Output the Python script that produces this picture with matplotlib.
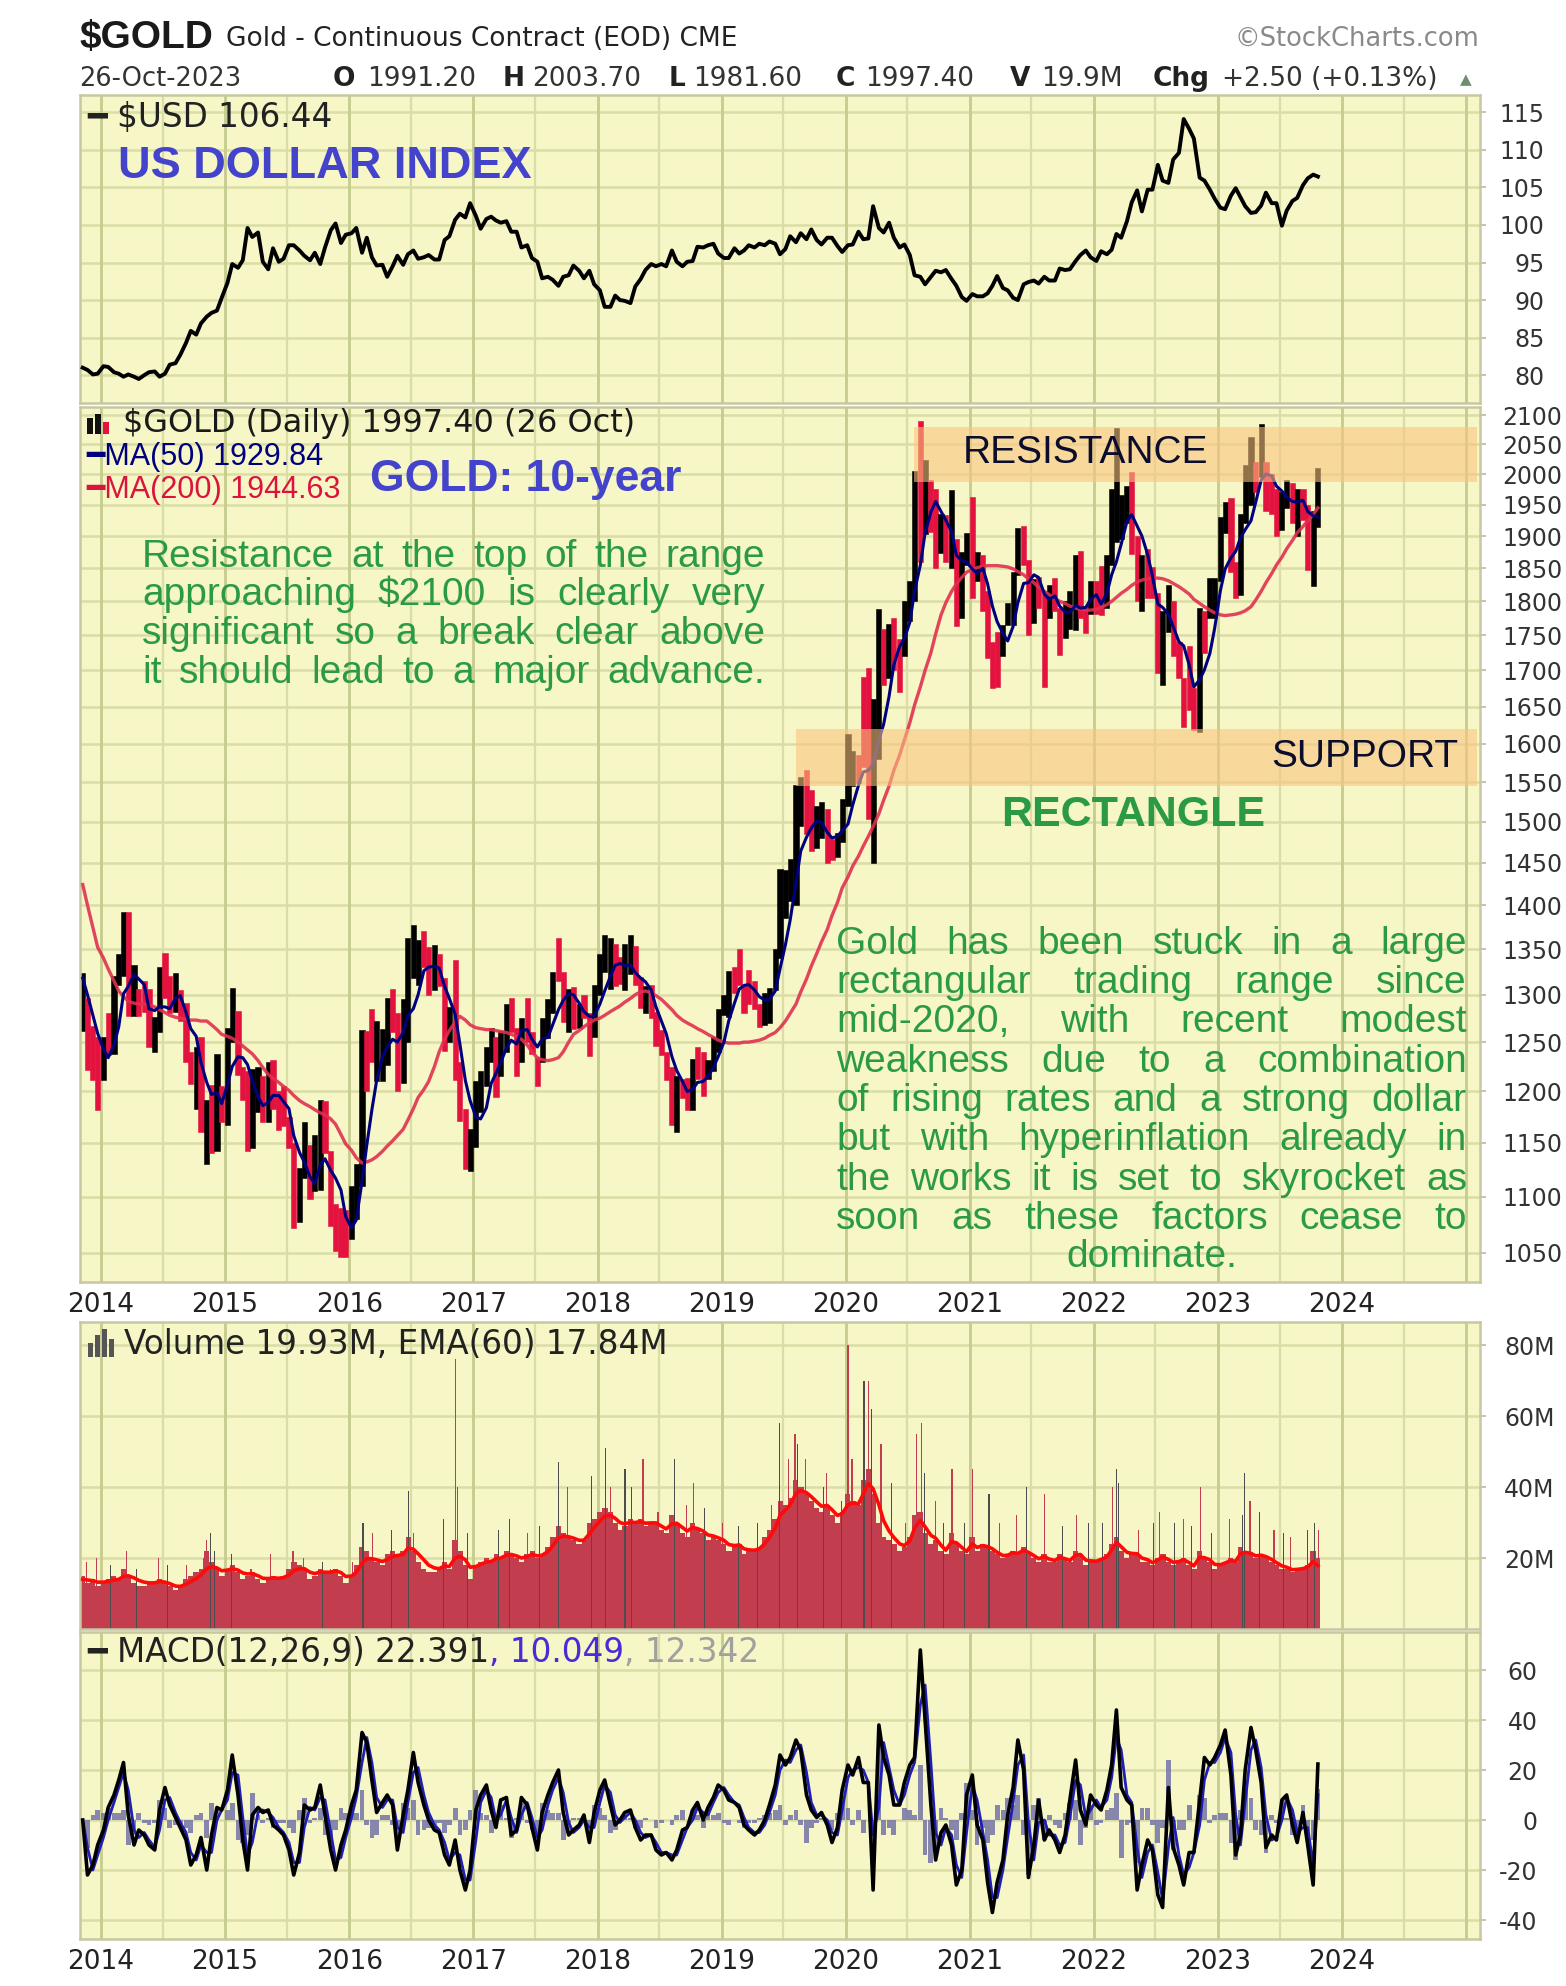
import matplotlib
matplotlib.use("Agg")
import matplotlib.pyplot as plt
import matplotlib.dates as mdates
from matplotlib import font_manager
from matplotlib.patches import Rectangle
from matplotlib.ticker import NullLocator, NullFormatter
import numpy as np
import pandas as pd

# ---------------------------------------------------------------------------
# Data: half-monthly periods from Nov 2013 to late Oct 2023
# ---------------------------------------------------------------------------
usd = [
    81.0, 80.7, 80.1, 80.2,
    81.2, 81.1, 80.4, 80.2, 79.8, 80.1, 79.8, 79.5, 80.0, 80.4, 80.5, 79.8, 80.2, 81.4, 81.6, 82.7, 84.3, 85.9, 85.4, 86.9, 87.8, 88.3, 88.6, 90.3,
    92.3, 94.8, 94.3, 95.3, 99.6, 98.4, 99.0, 95.1, 94.1, 96.9, 95.1, 95.5, 97.3, 97.3, 96.6, 95.9, 95.3, 96.3, 94.8, 97.0, 99.3, 100.2, 97.6, 98.7,
    98.9, 99.6, 96.3, 98.3, 95.7, 94.6, 94.7, 93.1, 94.5, 95.9, 94.7, 96.1, 96.6, 95.5, 95.7, 96.0, 95.4, 95.4, 98.0, 98.5, 100.7, 101.5, 101.0, 102.9,
    101.2, 99.5, 100.8, 101.1, 100.6, 100.3, 100.5, 99.1, 99.1, 97.0, 97.3, 95.6, 95.1, 92.9, 93.1, 92.7, 91.9, 93.1, 93.3, 94.6, 93.9, 92.9, 93.9, 92.1,
    91.3, 89.1, 89.1, 90.6, 90.0, 89.9, 89.6, 91.8, 92.8, 94.0, 94.8, 94.5, 94.8, 94.5, 96.6, 95.1, 94.5, 95.1, 95.2, 97.1, 97.0, 97.3, 97.5, 96.2,
    95.6, 95.6, 96.9, 96.2, 96.6, 97.3, 97.0, 97.5, 97.3, 97.8, 97.5, 96.1, 96.8, 98.5, 97.7, 98.9, 98.1, 99.4, 98.0, 97.4, 98.3, 98.3, 97.2, 96.4,
    97.3, 97.4, 99.1, 98.1, 98.2, 102.5, 99.6, 99.0, 100.3, 98.3, 97.0, 97.4, 96.0, 93.3, 93.1, 92.1, 93.1, 93.9, 93.7, 94.0, 92.8, 91.9, 90.4, 89.9,
    90.8, 90.5, 90.5, 90.9, 91.9, 93.2, 91.6, 91.3, 90.3, 90.0, 92.1, 92.4, 92.6, 92.2, 93.1, 92.6, 92.6, 94.2, 94.0, 94.1, 95.2, 96.0, 96.6, 95.7,
    95.2, 96.5, 96.1, 96.7, 98.8, 98.3, 100.5, 103.0, 104.6, 101.8, 104.7, 104.7, 108.0, 105.9, 105.6, 108.7, 109.6, 114.1, 112.8, 111.5, 106.3, 105.9, 104.7, 103.5,
    102.3, 102.1, 103.9, 104.9, 103.7, 102.5, 101.6, 101.7, 102.6, 104.3, 102.9, 102.9, 99.9, 101.9, 103.2, 103.6, 105.3, 106.2, 106.7, 106.44,
]

gold_low = [
    1262, 1221, 1211, 1182,
    1211, 1237, 1238, 1310, 1320, 1277, 1277, 1277, 1282, 1245, 1240, 1260, 1296, 1280, 1282, 1272, 1230, 1207, 1183, 1160, 1130, 1140, 1142, 1170,
    1167, 1250, 1216, 1192, 1142, 1145, 1180, 1170, 1170, 1183, 1162, 1166, 1145, 1072, 1077, 1117, 1098, 1105, 1106, 1140, 1074, 1052, 1046, 1046,
    1062, 1080, 1110, 1200, 1230, 1210, 1210, 1227, 1260, 1200, 1208, 1250, 1318, 1310, 1330, 1300, 1305, 1309, 1241, 1250, 1211, 1171, 1125, 1124,
    1146, 1180, 1205, 1230, 1195, 1215, 1240, 1260, 1215, 1230, 1250, 1238, 1205, 1230, 1254, 1280, 1315, 1271, 1260, 1264, 1265, 1275, 1236, 1255,
    1300, 1325, 1306, 1309, 1312, 1305, 1322, 1310, 1286, 1281, 1275, 1246, 1237, 1211, 1167, 1160, 1194, 1182, 1182, 1212, 1196, 1212, 1220, 1240,
    1278, 1276, 1302, 1311, 1280, 1290, 1285, 1266, 1268, 1270, 1305, 1340, 1385, 1405, 1400, 1495, 1485, 1464, 1468, 1480, 1450, 1453, 1457, 1475,
    1520, 1545, 1549, 1570, 1504, 1450, 1580, 1680, 1690, 1700, 1670, 1720, 1771, 1800, 1860, 1903, 1906, 1850, 1874, 1860, 1850, 1764, 1776, 1855,
    1805, 1830, 1785, 1717, 1676, 1677, 1720, 1765, 1765, 1840, 1855, 1750, 1768, 1790, 1677, 1775, 1785, 1722, 1746, 1760, 1758, 1775, 1753, 1782,
    1782, 1780, 1790, 1855, 1890, 1895, 1920, 1872, 1800, 1786, 1805, 1805, 1696, 1680, 1755, 1720, 1690, 1622, 1645, 1618, 1616, 1725, 1775, 1775,
    1830, 1905, 1845, 1805, 1810, 1920, 1950, 1970, 1995, 1940, 1935, 1900, 1910, 1945, 1920, 1900, 1925, 1848, 1823, 1915,
]

gold_high = [
    1324, 1296, 1267, 1255,
    1255, 1280, 1320, 1345, 1392, 1392, 1332, 1306, 1315, 1306, 1276, 1330, 1346, 1320, 1324, 1305, 1291, 1240, 1245, 1255, 1192, 1206, 1238, 1205,
    1265, 1307, 1283, 1225, 1220, 1223, 1225, 1215, 1230, 1232, 1200, 1205, 1175, 1150, 1126, 1170, 1148, 1158, 1192, 1191, 1142, 1093, 1090, 1088,
    1110, 1130, 1263, 1262, 1285, 1272, 1264, 1297, 1306, 1280, 1295, 1362, 1377, 1360, 1370, 1352, 1355, 1345, 1318, 1287, 1338, 1230, 1183, 1163,
    1210, 1220, 1245, 1265, 1255, 1262, 1290, 1296, 1265, 1275, 1297, 1260, 1235, 1275, 1295, 1325, 1362, 1325, 1306, 1308, 1290, 1300, 1280, 1310,
    1345, 1366, 1362, 1356, 1341, 1356, 1366, 1354, 1319, 1309, 1310, 1282, 1263, 1240, 1225, 1215, 1212, 1213, 1233, 1245, 1240, 1232, 1255, 1285,
    1300, 1326, 1330, 1350, 1311, 1327, 1315, 1290, 1302, 1307, 1350, 1442, 1441, 1455, 1546, 1556, 1566, 1540, 1520, 1525, 1516, 1479, 1486, 1529,
    1613, 1590, 1585, 1691, 1704, 1660, 1788, 1760, 1766, 1775, 1745, 1800, 1830, 2005, 2089, 2024, 1990, 1975, 1935, 1933, 1973, 1895, 1875, 1905,
    1962, 1875, 1870, 1815, 1740, 1755, 1765, 1798, 1845, 1913, 1916, 1862, 1833, 1836, 1815, 1825, 1835, 1790, 1800, 1815, 1870, 1877, 1793, 1831,
    1830, 1853, 1870, 1976, 2078, 1966, 1980, 2003, 1900, 1870, 1880, 1852, 1813, 1785, 1825, 1800, 1740, 1690, 1735, 1675, 1790, 1785, 1835, 1835,
    1930, 1955, 1960, 1860, 1935, 2015, 2063, 2020, 2085, 2020, 2000, 1975, 1970, 1990, 1985, 1975, 1975, 1950, 1940, 2010,
]

gold_close = [
    1287, 1250, 1235, 1202,
    1242, 1240, 1318, 1326, 1379, 1284, 1302, 1296, 1293, 1250, 1274, 1322, 1297, 1282, 1306, 1287, 1234, 1210, 1241, 1171, 1188, 1175, 1222, 1184,
    1264, 1279, 1228, 1213, 1153, 1183, 1200, 1183, 1225, 1190, 1180, 1172, 1147, 1095, 1113, 1133, 1103, 1115, 1182, 1142, 1080, 1065, 1063, 1060,
    1090, 1116, 1239, 1234, 1232, 1234, 1234, 1293, 1273, 1215, 1287, 1322, 1327, 1351, 1343, 1309, 1327, 1316, 1252, 1277, 1222, 1173, 1130, 1152,
    1197, 1211, 1229, 1253, 1201, 1249, 1289, 1268, 1233, 1269, 1255, 1242, 1228, 1269, 1280, 1322, 1320, 1280, 1305, 1271, 1278, 1275, 1257, 1303,
    1339, 1345, 1355, 1318, 1315, 1325, 1345, 1315, 1289, 1298, 1278, 1253, 1241, 1223, 1180, 1206, 1201, 1192, 1230, 1215, 1212, 1224, 1241, 1281,
    1292, 1321, 1318, 1316, 1302, 1298, 1291, 1283, 1297, 1306, 1342, 1413, 1415, 1437, 1524, 1529, 1499, 1472, 1482, 1514, 1468, 1465, 1480, 1520,
    1554, 1588, 1586, 1566, 1530, 1596, 1745, 1694, 1756, 1751, 1726, 1800, 1812, 1986, 1950, 1978, 1966, 1895, 1908, 1879, 1887, 1780, 1855, 1895,
    1829, 1850, 1823, 1734, 1728, 1715, 1764, 1768, 1838, 1905, 1858, 1771, 1828, 1817, 1780, 1818, 1795, 1757, 1768, 1784, 1866, 1775, 1762, 1829,
    1817, 1796, 1856, 1900, 1929, 1954, 1974, 1911, 1811, 1848, 1813, 1807, 1703, 1782, 1798, 1726, 1697, 1672, 1648, 1640, 1777, 1768, 1787, 1826,
    1921, 1945, 1850, 1836, 1932, 1986, 2015, 1999, 2018, 1982, 1970, 1929, 1960, 1970, 1945, 1966, 1946, 1870, 1933, 1997.40,
]

ma50 = [
    1318, 1300, 1278, 1259,
    1243, 1234, 1247, 1266, 1301, 1309, 1322, 1317, 1311, 1285, 1283, 1287, 1287, 1285, 1296, 1299, 1281, 1264, 1256, 1229, 1209, 1197, 1199, 1188,
    1207, 1225, 1235, 1234, 1227, 1211, 1195, 1186, 1189, 1196, 1196, 1190, 1183, 1157, 1141, 1132, 1118, 1112, 1129, 1135, 1124, 1117, 1106, 1082,
    1072, 1079, 1114, 1148, 1182, 1211, 1235, 1245, 1253, 1250, 1260, 1278, 1285, 1300, 1326, 1330, 1331, 1329, 1309, 1296, 1279, 1248, 1211, 1191,
    1175, 1173, 1184, 1208, 1218, 1229, 1244, 1252, 1248, 1262, 1263, 1253, 1245, 1253, 1255, 1268, 1284, 1294, 1301, 1300, 1291, 1282, 1277, 1277,
    1290, 1304, 1320, 1332, 1334, 1332, 1332, 1324, 1318, 1314, 1305, 1287, 1272, 1259, 1235, 1221, 1210, 1200, 1202, 1209, 1210, 1215, 1224, 1235,
    1250, 1272, 1291, 1306, 1310, 1311, 1305, 1298, 1294, 1295, 1304, 1328, 1355, 1383, 1426, 1464, 1481, 1492, 1501, 1499, 1487, 1480, 1482, 1489,
    1497, 1521, 1546, 1563, 1565, 1573, 1605, 1626, 1664, 1708, 1734, 1745, 1769, 1815, 1855, 1905, 1938, 1955, 1939, 1925, 1907, 1870, 1862, 1859,
    1849, 1842, 1850, 1826, 1793, 1770, 1753, 1742, 1763, 1798, 1827, 1828, 1840, 1836, 1811, 1803, 1808, 1793, 1784, 1784, 1794, 1790, 1791, 1803,
    1810, 1796, 1812, 1840, 1860, 1887, 1923, 1934, 1916, 1900, 1871, 1838, 1796, 1791, 1781, 1763, 1741, 1735, 1708, 1677, 1687, 1701, 1724, 1760,
    1816, 1849, 1866, 1876, 1897, 1910, 1924, 1954, 1990, 2000, 1997, 1980, 1972, 1962, 1955, 1954, 1957, 1939, 1932, 1929.84,
]

ma200 = [
    1424, 1400, 1374, 1352,
    1340, 1328, 1315, 1304, 1298, 1293, 1291, 1290, 1290, 1289, 1287, 1284, 1281, 1278, 1276, 1275, 1274, 1273, 1273, 1272, 1272, 1268, 1263, 1258,
    1256, 1254, 1250, 1246, 1242, 1238, 1231, 1224, 1217, 1213, 1209, 1205, 1201, 1196, 1191, 1188, 1185, 1182, 1179, 1177, 1173, 1168, 1158, 1149,
    1143, 1136, 1131, 1132, 1134, 1137, 1142, 1147, 1152, 1157, 1163, 1172, 1183, 1194, 1202, 1210, 1225, 1240, 1253, 1262, 1271, 1277, 1273, 1268,
    1265, 1264, 1263, 1263, 1262, 1261, 1260, 1258, 1256, 1253, 1247, 1240, 1234, 1232, 1231, 1232, 1234, 1240, 1250, 1258, 1262, 1266, 1270, 1273,
    1275, 1278, 1282, 1285, 1288, 1292, 1296, 1300, 1303, 1304, 1302, 1299, 1295, 1290, 1284, 1278, 1273, 1270, 1267, 1264, 1261, 1258, 1255, 1252,
    1250, 1249, 1249, 1249, 1250, 1250, 1251, 1252, 1254, 1257, 1260, 1265, 1272, 1280, 1290, 1303, 1317, 1331, 1345, 1358, 1372, 1388, 1403, 1420,
    1433, 1446, 1458, 1470, 1482, 1494, 1510, 1527, 1545, 1565, 1585, 1605, 1628, 1652, 1677, 1700, 1725, 1752, 1780, 1798, 1815, 1826, 1836, 1844,
    1848, 1851, 1853, 1854, 1854, 1854, 1853, 1852, 1849, 1845, 1840, 1834, 1828, 1821, 1815, 1810, 1805, 1800, 1797, 1793, 1790, 1788, 1787, 1787,
    1788, 1791, 1795, 1800, 1806, 1812, 1818, 1824, 1829, 1832, 1834, 1835, 1835, 1834, 1831, 1827, 1822, 1817, 1811, 1803, 1797, 1792, 1787, 1783,
    1780, 1779, 1780, 1781, 1783, 1786, 1792, 1802, 1815, 1828, 1842, 1855, 1867, 1880, 1893, 1905, 1915, 1924, 1934, 1944.63,
]

volume = [  # millions of contracts
    15, 13, 14, 12,
    13, 14, 15, 14, 17, 15, 13, 12, 12, 13, 13, 14, 13, 12, 11, 12, 14, 15, 16, 17, 22, 19, 17, 15,
    17, 18, 16, 14, 15, 16, 14, 13, 14, 15, 14, 15, 17, 19, 18, 17, 14, 15, 17, 16, 16, 17, 15, 13,
    15, 18, 23, 22, 20, 19, 18, 21, 22, 21, 22, 26, 22, 19, 17, 16, 16, 17, 19, 17, 25, 22, 18, 14,
    18, 19, 20, 19, 21, 20, 22, 21, 20, 19, 21, 22, 20, 21, 23, 26, 29, 27, 26, 25, 24, 25, 30, 31,
    33, 34, 33, 30, 28, 29, 31, 30, 31, 29, 30, 30, 28, 27, 32, 30, 27, 26, 30, 28, 27, 25, 26, 25,
    24, 22, 23, 24, 21, 22, 22, 23, 26, 28, 31, 36, 35, 37, 42, 40, 38, 36, 34, 33, 35, 32, 30, 33,
    38, 36, 35, 42, 45, 38, 30, 26, 25, 24, 22, 23, 26, 32, 33, 27, 24, 25, 22, 21, 27, 24, 22, 21,
    26, 22, 24, 23, 22, 21, 20, 21, 22, 21, 23, 21, 20, 19, 21, 19, 19, 21, 20, 19, 22, 21, 18, 19,
    19, 20, 21, 24, 26, 22, 20, 21, 21, 19, 19, 18, 20, 21, 19, 18, 19, 20, 18, 17, 22, 20, 19, 17,
    18, 19, 20, 19, 23, 22, 21, 20, 21, 20, 19, 18, 17, 17, 16, 17, 17, 18, 22, 19.93,
]

volume_ema = [
    14.0, 13.8, 13.6, 13.2,
    13.2, 13.4, 13.8, 14.0, 14.8, 15.0, 14.4, 13.7, 13.2, 13.0, 13.0, 13.4, 13.2, 12.8, 12.1, 12.0, 12.6, 13.4, 14.2, 15.2, 17.0, 17.6, 17.2, 16.4,
    16.6, 17.0, 16.6, 15.8, 15.5, 15.6, 15.0, 14.3, 14.2, 14.4, 14.3, 14.5, 15.2, 16.4, 17.0, 17.0, 16.0, 15.6, 16.1, 16.0, 16.0, 16.4, 15.9, 14.8,
    14.9, 16.0, 18.5, 19.8, 19.8, 19.5, 19.0, 19.6, 20.4, 20.7, 21.0, 22.8, 22.5, 21.2, 19.5, 18.0, 17.2, 17.0, 17.8, 17.6, 20.0, 20.5, 19.5, 17.4,
    17.6, 18.2, 18.9, 19.0, 19.8, 20.0, 20.8, 21.0, 20.6, 20.0, 20.4, 21.0, 20.6, 20.8, 21.8, 23.4, 25.6, 26.2, 26.0, 25.6, 25.0, 25.0, 26.8, 28.6,
    30.4, 31.8, 32.0, 31.2, 30.0, 29.6, 30.1, 30.0, 30.3, 29.8, 29.9, 29.9, 29.0, 28.2, 29.6, 29.8, 28.6, 27.6, 28.6, 28.3, 27.6, 26.5, 26.2, 25.7,
    25.0, 23.8, 23.5, 23.7, 22.6, 22.3, 22.2, 22.6, 24.0, 25.8, 28.4, 32.0, 33.5, 35.0, 38.2, 39.0, 38.4, 37.3, 35.8, 34.6, 34.8, 33.6, 32.0, 32.5,
    35.0, 35.5, 35.3, 38.0, 41.0, 39.5, 35.0, 30.5, 27.6, 25.8, 24.0, 23.5, 24.8, 28.4, 30.6, 28.8, 26.4, 25.6, 23.6, 22.2, 24.6, 24.3, 23.0, 21.8,
    24.0, 23.0, 23.5, 23.2, 22.6, 21.6, 20.7, 20.8, 21.5, 21.3, 22.2, 21.6, 20.7, 19.8, 20.4, 19.7, 19.3, 20.2, 19.8, 19.3, 20.8, 21.0, 19.4, 19.2,
    19.1, 19.6, 20.3, 22.3, 24.4, 23.2, 21.6, 21.3, 21.2, 20.0, 19.5, 18.7, 19.4, 20.3, 19.6, 18.8, 19.0, 19.5, 18.7, 17.8, 20.2, 20.1, 19.5, 18.2,
    18.1, 18.6, 19.3, 19.1, 21.2, 21.6, 21.3, 20.6, 20.8, 20.4, 19.6, 18.7, 17.8, 17.4, 16.7, 16.8, 17.0, 17.5, 19.0, 17.84,
]

# single heavy sessions (up days / down days)
spike_up_dates = [
    "2014-01-28", "2014-04-15", "2014-07-15", "2014-11-20", "2014-12-02", "2015-01-20", "2015-10-15",
    "2016-02-11", "2016-05-05", "2016-06-24", "2016-10-04", "2016-12-15", "2017-03-15", "2017-04-18",
    "2017-07-15", "2017-09-08", "2017-12-14", "2018-01-25", "2018-03-23", "2018-04-11", "2018-08-15",
    "2018-11-13", "2019-02-20", "2019-04-16", "2019-06-20", "2019-08-13", "2019-10-28", "2019-12-20",
    "2020-02-24", "2020-03-18", "2020-05-15", "2020-08-20", "2020-10-15", "2020-12-16", "2021-02-26",
    "2021-06-17", "2021-09-30", "2021-12-15", "2022-01-26", "2022-03-08", "2022-03-14", "2022-06-24",
    "2022-08-26", "2022-10-14", "2022-12-13", "2023-03-13", "2023-03-20", "2023-05-04", "2023-07-13",
    "2023-09-22", "2023-10-13",
]
spike_up = [
    18, 17, 18, 27, 22, 21, 19,
    30, 28, 39, 31, 27, 28, 31,
    29, 47, 43, 51, 45, 40, 48,
    34, 29, 30, 58, 52, 40, 36,
    70, 62, 41, 44, 30, 30, 38,
    40, 29, 30, 30, 45, 41, 30,
    30, 29, 27, 32, 44, 33, 27,
    28, 30,
]
spike_down_dates = [
    "2013-11-20", "2013-12-18", "2014-03-18", "2014-06-19", "2014-09-10", "2014-10-30", "2014-11-07",
    "2015-03-18", "2015-05-15", "2015-07-20", "2015-08-20", "2015-11-06", "2016-01-12", "2016-03-10",
    "2016-07-08", "2016-11-09", "2016-11-14", "2017-06-08", "2017-10-05", "2018-02-08", "2018-05-15",
    "2018-06-28", "2018-09-20", "2018-10-11", "2019-01-04", "2019-05-28", "2019-07-18", "2019-08-05",
    "2019-09-04", "2019-11-07", "2020-01-20", "2020-01-08", "2020-03-09", "2020-04-14", "2020-06-25",
    "2020-07-28", "2020-08-11", "2020-09-22", "2020-11-09", "2021-01-08", "2021-03-30", "2021-05-18",
    "2021-08-09", "2021-11-11", "2022-02-24", "2022-05-13", "2022-07-14", "2022-09-22", "2022-11-10",
    "2023-02-03", "2023-04-05", "2023-06-15", "2023-08-02", "2023-10-24",
]
spike_down = [
    19, 20, 22, 20, 18, 20, 25,
    17, 21, 22, 20, 17, 19, 27,
    27, 76, 40, 27, 40, 40, 48,
    33, 35, 41, 30, 35, 48, 55,
    48, 44, 48, 80, 70, 52, 30,
    55, 58, 36, 45, 45, 30, 32,
    38, 32, 40, 28, 33, 31, 40,
    31, 36, 28, 26, 28,
]

macd = [
    0, -22, -18, -10,
    -4, 5, 10, 16, 23, 2, -10, -4, -6, -10, -12, 4, 13, 6, 1, -3, -8, -18, -14, -7, -20, -6, 5, 4,
    12, 26, 10, -8, -20, 2, 5, 3, 4, -2, -4, -6, -12, -22, -13, 6, 4, 5, 14, 2, -12, -20, -10, -4,
    6, 12, 35, 31, 16, 3, 7, 10, 6, -12, 2, 12, 27, 15, 6, 0, -4, -5, -14, -18, -8, -20, -28, -20,
    4, 10, 14, 4, -3, 8, 9, -6, -4, 9, 6, -3, -12, 3, 10, 15, 20, 3, -6, -4, -2, 2, -9, 3,
    12, 16, 6, -2, 0, 3, 4, -3, -8, -6, -6, -12, -14, -13, -16, -12, -4, -3, 4, 7, 0, 5, 9, 14,
    12, 8, 7, 5, -2, -4, -6, -4, 0, 6, 14, 26, 22, 25, 32, 28, 10, 4, 1, 3, -2, -9, -3, 12,
    22, 18, 25, 15, 15, -28, 38, 25, 18, 6, 6, 15, 22, 25, 68, 40, 6, -16, -5, -2, -10, -26, -20, 10,
    18, -2, -8, -25, -37, -25, -16, 2, 13, 32, 20, -23, -10, 8, -8, -4, -8, -13, -6, 8, 24, 4, -2, 10,
    6, 4, 12, 22, 44, 13, 8, 6, -28, -18, -8, -12, -30, -35, 13, -11, -18, -26, -13, -13, 8, 25, 22, 25,
    30, 36, 18, -14, -6, 20, 37, 28, 15, -11, -6, -8, 8, 10, -2, -9, 3, -10, -26, 22.391,
]

macd_signal = [
    0, -11, -20, -14,
    -7, 0, 7, 13, 19, 12, -4, -7, -5, -8, -11, -4, 8, 9, 3, -1, -5, -13, -16, -10, -13, -13, 0, 4,
    8, 19, 18, 1, -14, -9, 3, 4, 3, 1, -3, -5, -9, -17, -17, -3, 5, 4, 9, 8, -5, -16, -15, -7,
    1, 9, 23, 33, 23, 9, 5, 8, 8, -3, -5, 7, 19, 21, 10, 3, -2, -4, -9, -16, -13, -14, -24, -24,
    -8, 7, 12, 9, 0, 2, 8, 1, -5, 2, 7, 1, -7, -4, 6, 12, 17, 11, -1, -5, -3, 0, -3, -3,
    7, 14, 11, 2, -1, 1, 3, 0, -5, -7, -6, -9, -13, -13, -14, -14, -8, -3, 0, 5, 3, 2, 7, 11,
    13, 10, 7, 6, 1, -3, -5, -5, -2, 3, 10, 20, 24, 23, 28, 30, 19, 7, 2, 2, 0, -5, -6, 4,
    17, 20, 21, 20, 15, -6, 5, 31, 21, 12, 6, 10, 18, 23, 46, 54, 23, -5, -10, -3, -6, -18, -23, -5,
    14, 8, -5, -16, -31, -31, -20, -7, 7, 22, 26, -1, -16, -1, 0, -6, -6, -10, -9, 1, 16, 14, 1, 4,
    8, 5, 8, 17, 33, 28, 10, 7, -11, -23, -13, -10, -21, -32, -11, 1, -14, -22, -19, -13, -2, 16, 23, 23,
    27, 33, 27, 2, -10, 7, 28, 32, 21, 2, -8, -7, 0, 9, 4, -5, -3, -3, -18, 10.049,
]

year_labels = [str(y) for y in range(2014, 2025)]
usd_ticks = [80, 85, 90, 95, 100, 105, 110, 115]
gold_ticks = list(range(1050, 2101, 50))
volume_ticks = [20, 40, 60, 80]
macd_ticks = [-40, -20, 0, 20, 40, 60]

resistance_zone = (1986, 2080)
support_zone = (1545, 1620)
resistance_from = "2020-07-20"
support_from = "2019-08-08"

header_keys = ["O", "H", "L", "C", "V"]
header_vals = ["1991.20", "2003.70", "1981.60", "1997.40", "19.9M"]
header_change = "+2.50 (+0.13%)"

n = len(gold_close)
for series in (usd, gold_low, gold_high, ma50, ma200, volume, volume_ema, macd, macd_signal):
    assert len(series) == n, len(series)
assert len(spike_up) == len(spike_up_dates) and len(spike_down) == len(spike_down_dates)

# ---------------------------------------------------------------------------
# Figure and helpers
# ---------------------------------------------------------------------------
W, H = 1566, 1986
plt.rcParams["font.family"] = "DejaVu Sans"
fig = plt.figure(figsize=(W / 100, H / 100), dpi=100)
fig.patch.set_facecolor("white")

_installed = {f.name for f in font_manager.fontManager.ttflist}


def family(*names):
    for name in names:
        if name in _installed:
            return name
    return "DejaVu Sans"


SANS = "DejaVu Sans"
ARIAL = family("Liberation Sans", "Arial")
NARROW = family("Liberation Sans Narrow", "Liberation Sans")

PANEL = "#F6F6C6"
GRID = "#DADDA6"
GRID_YEAR = "#C5CC8D"
EDGE = "#C7C8A2"
GREEN = "#2B9A47"
BLUE_TITLE = "#4343CC"
PRICE_RED = "#E3123F"
VOL_RED = "#C23D4D"


def xd(d):
    return mdates.date2num(pd.Timestamp(d).to_pydatetime())


periods = pd.date_range("2013-11-01", periods=n, freq="SMS") + pd.Timedelta(days=7)
x = mdates.date2num(periods.to_pydatetime())
XMIN, XMAX = xd("2013-10-31"), xd("2025-02-10")
year_pos = [xd(f"{y}-01-01") for y in range(2014, 2025)]


def panel(top, bottom):
    ax = fig.add_axes([80 / W, 1 - bottom / H, 1400 / W, (bottom - top) / H])
    ax.set_facecolor(PANEL)
    ax.set_xlim(XMIN, XMAX)
    for s in ax.spines.values():
        s.set_color(EDGE)
        s.set_linewidth(1.8)
    for yr in range(2014, 2026):
        ax.axvline(xd(f"{yr}-01-01"), color=GRID_YEAR, lw=2.0, zorder=0.6)
        ax.axvline(xd(f"{yr}-07-01"), color=GRID, lw=1.6, zorder=0.5)
    ax.set_xticks([])
    return ax


def yaxis(ax, ticks, labels, ylim, right_px, log=False):
    if log:
        ax.set_yscale("log")
    ax.set_ylim(*ylim)
    ax.set_yticks(ticks)
    ax.set_yticklabels(labels)
    ax.yaxis.set_minor_locator(NullLocator())
    ax.yaxis.set_minor_formatter(NullFormatter())
    ax.yaxis.tick_right()
    ax.tick_params(axis="y", length=4, width=1.2, color="#B9BA9A",
                   labelsize=17, labelcolor="#333333",
                   pad=(right_px - 1484) * 0.72)
    for t in ax.yaxis.get_major_ticks():
        t.label2.set_horizontalalignment("right")
    for v in ticks:
        ax.axhline(v, color=GRID, lw=1.8, zorder=0.5)


def year_axis(ax):
    ax.set_xticks(year_pos)
    ax.set_xticklabels(year_labels)
    ax.tick_params(axis="x", length=0, pad=7, labelsize=19, labelcolor="#222222")


def fx(px):
    return px / W


def fy(py):
    return 1 - py / H


def put(xp, yp, s, **kw):
    kw.setdefault("va", "center")
    return fig.text(fx(xp), fy(yp), s, **kw)


renderer = fig.canvas.get_renderer()


def width_px(t):
    return t.get_window_extent(renderer).width


def chain(xp, yp, parts, **common):
    for s, style in parts:
        t = put(xp, yp, s, **{**common, **style})
        xp += width_px(t)
    return xp


def justify(lines, x0, x1, ys, center_last=False, **kw):
    for i, (line, yp) in enumerate(zip(lines, ys)):
        if center_last and i == len(lines) - 1:
            put((x0 + x1) / 2, yp, line, ha="center", **kw)
            continue
        words = line.split()
        arts = [put(x0, yp, w, ha="left", **kw) for w in words]
        widths = [width_px(a) for a in arts]
        gap = (x1 - x0 - sum(widths)) / max(len(words) - 1, 1)
        xp = x0
        for a, w in zip(arts, widths):
            a.set_x(fx(xp))
            xp += w + gap


def icon(x0, y_base, heights, colors, bar_w=5, step=7):
    for i, (h, c) in enumerate(zip(heights, colors)):
        fig.add_artist(Rectangle((fx(x0 + i * step), fy(y_base)), bar_w / W, h / H,
                                 transform=fig.transFigure, color=c, lw=0))


# ---------------------------------------------------------------------------
# US dollar panel
# ---------------------------------------------------------------------------
ax_usd = panel(95, 403)
yaxis(ax_usd, usd_ticks, [str(v) for v in usd_ticks], (76.3, 117.3), 1543)
ax_usd.plot(x, usd, color="black", lw=2.8, solid_joinstyle="round", zorder=3)

# ---------------------------------------------------------------------------
# Gold panel
# ---------------------------------------------------------------------------
ax_gold = panel(407, 1282)
yaxis(ax_gold, gold_ticks, [str(v) for v in gold_ticks], (1025, 2114), 1561, log=True)
year_axis(ax_gold)

close_arr = np.asarray(gold_close, float)
low_arr = np.asarray(gold_low, float)
high_arr = np.asarray(gold_high, float)
up = np.diff(close_arr, prepend=close_arr[0]) >= 0
bar_colors = np.where(up, "black", PRICE_RED)
ax_gold.bar(x, high_arr - low_arr, bottom=low_arr, width=15.2, color=bar_colors,
            edgecolor=bar_colors, linewidth=0.4, zorder=2)
ax_gold.plot(x, ma200, color="#E0304F", lw=2.4, alpha=0.9, zorder=3)
ax_gold.plot(x, ma50, color="#00007F", lw=2.2, zorder=3.1)

for (lo, hi), start in ((resistance_zone, resistance_from), (support_zone, support_from)):
    ax_gold.fill_between([xd(start), xd("2025-02-01")], [lo, lo], [hi, hi],
                         color="#FAC47D", alpha=0.58, lw=0, zorder=4)

# ---------------------------------------------------------------------------
# Volume panel
# ---------------------------------------------------------------------------
ax_vol = panel(1322, 1629)
yaxis(ax_vol, volume_ticks, [f"{v}M" for v in volume_ticks], (0, 86.5), 1553)
vol_edges = np.r_[x[0] - 7.6, x, x[-1] + 7.6]
vol_vals = np.r_[volume[0], volume, volume[-1]]
ax_vol.fill_between(vol_edges, vol_vals, 0, step="mid", color=VOL_RED, lw=0, zorder=2)
ax_vol.bar([xd(d) for d in spike_up_dates], spike_up, width=3.5, color="#4D4D4D",
           linewidth=0, zorder=2.2)
ax_vol.bar([xd(d) for d in spike_down_dates], spike_down, width=3.5, color=VOL_RED,
           linewidth=0, zorder=2.1)
ax_vol.plot(x, volume_ema, color="#FF0A0A", lw=2.6, zorder=3)

# ---------------------------------------------------------------------------
# MACD panel
# ---------------------------------------------------------------------------
ax_macd = panel(1632, 1939)
yaxis(ax_macd, macd_ticks, [str(v) for v in macd_ticks], (-47.6, 75.2), 1536)
year_axis(ax_macd)
macd_arr = np.asarray(macd, float)
sig_arr = np.asarray(macd_signal, float)
ax_macd.bar(x, macd_arr - sig_arr, width=14, color="#7474A8", alpha=0.85,
            linewidth=0, zorder=2)
ax_macd.plot(x, sig_arr, color="#1F1FB8", lw=2.0, zorder=3)
ax_macd.plot(x, macd_arr, color="black", lw=2.6, zorder=3.1)

# ---------------------------------------------------------------------------
# Header
# ---------------------------------------------------------------------------
put(79, 38, "$GOLD", fontfamily=[NARROW, SANS], fontweight="bold", fontsize=28,
    color="#1A1A1A")
put(226, 39, "Gold - Continuous Contract (EOD) CME", fontfamily=SANS, fontsize=19,
    color="#222222")
put(1479, 39, "\u00a9StockCharts.com", fontfamily=SANS, fontsize=18.5, color="#8A8A8A",
    ha="right")
put(79, 79, "26-Oct-2023", fontfamily=SANS, fontsize=18.5, color="#333333")
key_x = [333, 503, 669, 836, 1010]
val_x = [367, 532, 693, 865, 1041]
for k, v, kx, vx in zip(header_keys, header_vals, key_x, val_x):
    put(kx, 79, k, fontfamily=SANS, fontweight="bold", fontsize=19, color="#222222")
    put(vx, 79, v, fontfamily=SANS, fontsize=19, color="#333333")
put(1153, 79, "Chg", fontfamily=SANS, fontweight="bold", fontsize=19, color="#222222")
put(1222, 79, header_change, fontfamily=SANS, fontsize=19, color="#333333")
put(1460, 80, "\u25b2", fontfamily=SANS, fontsize=11, color="#6E8F6E")

# ---------------------------------------------------------------------------
# Panel legends and annotations
# ---------------------------------------------------------------------------
put(87, 118, "\u2501 $USD 106.44", fontfamily=SANS, fontsize=23.5, color="#222222")
put(118, 166, "US DOLLAR INDEX", fontfamily=ARIAL, fontweight="bold", fontsize=32.5,
    color=BLUE_TITLE)

icon(87, 434, [16, 20, 12], ["#111111", "#111111", PRICE_RED], bar_w=6, step=8)
put(123, 423, "$GOLD (Daily) 1997.40 (26 Oct)", fontfamily=SANS, fontsize=23,
    color="#1A1A1A")
put(86, 457, "\u2501MA(50) 1929.84", fontfamily=[NARROW, SANS], fontsize=22,
    color="#00007F")
put(86, 490, "\u2501MA(200) 1944.63", fontfamily=[NARROW, SANS], fontsize=22,
    color="#DC143C")
put(370, 480, "GOLD: 10-year", fontfamily=ARIAL, fontweight="bold", fontsize=32,
    color=BLUE_TITLE)

left_note = [
    "Resistance at the top of the range",
    "approaching $2100 is clearly very",
    "significant so a break clear above",
    "it should lead to a major advance.",
]
justify(left_note, 142, 765, [557, 595, 634, 673], fontfamily=ARIAL, fontsize=28,
        color=GREEN)

right_note = [
    "Gold has been stuck in a large",
    "rectangular trading range since",
    "mid-2020, with recent modest",
    "weakness due to a combination",
    "of rising rates and a strong dollar",
    "but with hyperinflation already in",
    "the works it is set to skyrocket as",
    "soon as these factors cease to",
    "dominate.",
]
justify(right_note, 836, 1467, [944, 983, 1022, 1062, 1101, 1140, 1180, 1219, 1257],
        center_last=True, fontfamily=ARIAL, fontsize=28, color=GREEN)

put(963, 453, "RESISTANCE", fontfamily=ARIAL, fontsize=28, color="#0C0C2C")
put(1271, 757, "SUPPORT", fontfamily=ARIAL, fontsize=28, color="#0C0C2C")
put(1001, 815, "RECTANGLE", fontfamily=ARIAL, fontweight="bold", fontsize=31, color=GREEN)

icon(88, 1357, [14, 22, 28, 18], ["#555555"] * 4, bar_w=5, step=7)
put(124, 1345, "Volume 19.93M, EMA(60) 17.84M", fontfamily=SANS, fontsize=23.5,
    color="#222222")

chain(87, 1653, [("\u2501 MACD(12,26,9) 22.391", {"color": "#222222"}),
                 (", 10.049", {"color": "#4A2BD6"}),
                 (", 12.342", {"color": "#A0A0A0"})],
      fontfamily=SANS, fontsize=23.5)

fig.savefig("out.png", dpi=100, facecolor="white")
